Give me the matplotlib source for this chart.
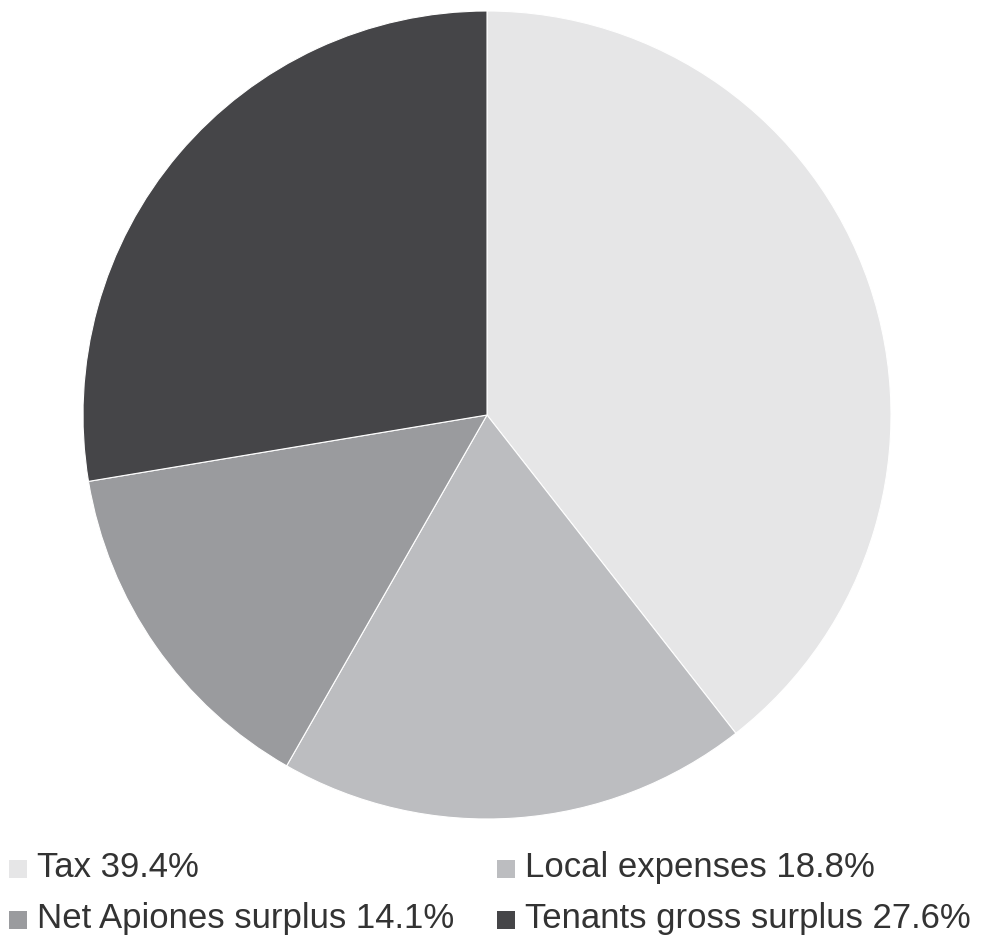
import matplotlib
matplotlib.use("Agg")
import matplotlib.pyplot as plt
from matplotlib.patches import Rectangle

# shares of the estate revenue (percent)
labels = ["Tax", "Local expenses", "Net Apiones surplus", "Tenants gross surplus"]
shares = [39.4, 18.8, 14.1, 27.6]
colours = ["#e6e6e7", "#bcbdc0", "#9a9b9e", "#454548"]

plt.rcParams['font.family'] = ['Liberation Sans', 'DejaVu Sans']

W, H = 984, 936
fig = plt.figure(figsize=(W / 100, H / 100), dpi=100)

# pie: centre (487, 415) px, radius 404 px
cx, cy, r = 487, 415, 404
ax = fig.add_axes([(cx - r) / W, (H - cy - r) / H, 2 * r / W, 2 * r / H])
ax.pie(shares, colors=colours, startangle=90, counterclock=False,
       wedgeprops=dict(edgecolor="white", linewidth=0.8))
ax.set_xlim(-1, 1)
ax.set_ylim(-1, 1)
ax.set_aspect("equal")

# legend, two columns, laid out by hand (pixel positions of marker/text)
col_x = [9, 497]
row_base = [877, 928]
for i, (lab, s, c) in enumerate(zip(labels, shares, colours)):
    col = i % 2
    row = i // 2
    x0 = col_x[col]
    yb = row_base[row]
    fig.patches.append(Rectangle((x0 / W, (H - yb - 1) / H), 18 / W, 18 / H,
                                 transform=fig.transFigure, facecolor=c,
                                 edgecolor="none"))
    fig.text((x0 + 28) / W, (H - yb) / H, "%s %.1f%%" % (lab, s),
             fontsize=25, color="#333333", va="baseline", ha="left")

fig.savefig("out.png", dpi=100)
